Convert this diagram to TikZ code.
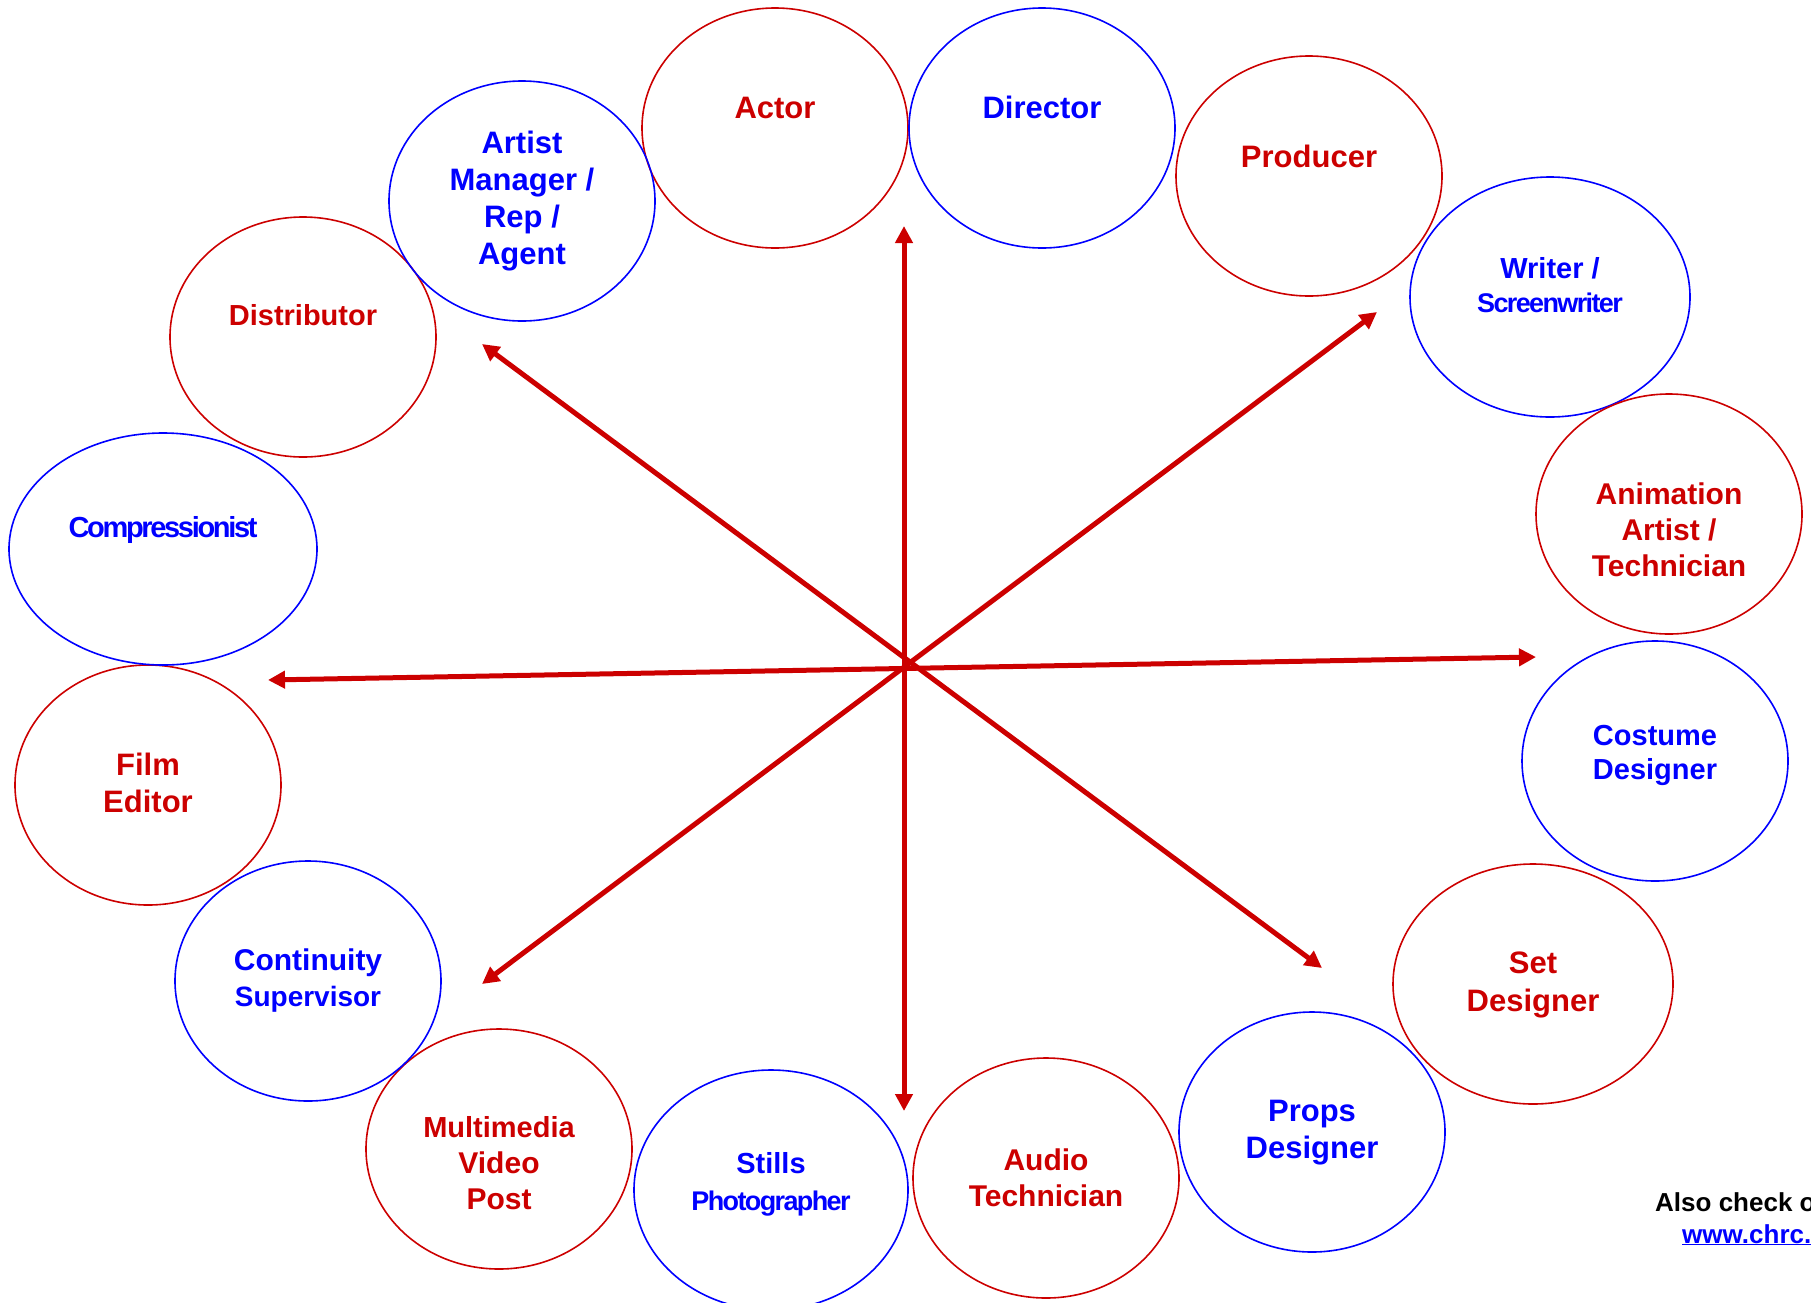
\documentclass[tikz,border=0pt]{standalone}
\usepackage{fontspec}
\setmainfont{Liberation Sans}
\newfontfamily\tightfont[LetterSpace=-6]{Liberation Sans}
\newfontfamily\tighterfont[LetterSpace=-8]{Liberation Sans}
\usetikzlibrary{shapes.geometric,arrows.meta}
\definecolor{rolered}{HTML}{CC0000}
\definecolor{roleblue}{HTML}{0000FF}

\tikzset{
  redrole/.style={ellipse, draw=rolered, line width=1.6pt, minimum width=266pt, minimum height=240pt, inner sep=0pt},
  bluerole/.style={ellipse, draw=roleblue, line width=1.6pt, minimum width=266pt, minimum height=240pt, inner sep=0pt},
  redlabel/.style={text=rolered, font=\bfseries\fontsize{31}{37}\selectfont, align=center, inner sep=0pt},
  bluelabel/.style={text=roleblue, font=\bfseries\fontsize{31}{37}\selectfont, align=center, inner sep=0pt},
  spoke/.style={draw=rolered, line width=5pt, {Triangle[length=17pt,width=17pt]}-{Triangle[length=17pt,width=17pt]}}
}

\begin{document}
\begin{tikzpicture}[x=1pt, y=-1pt]
                \useasboundingbox (0,0) rectangle (1811,1302);

                % Roles round the wheel
                \node[redrole]  (actor)     at (775,128)  {};
                \node[bluerole] (director)  at (1042,128) {};
                \node[redrole]  (producer)  at (1309,176) {};
                \node[bluerole, minimum width=280pt] (writer) at (1550,297) {};
                \node[redrole]  (animation) at (1669,514) {};
                \node[bluerole] (costume)   at (1655,761) {};
                \node[redrole, minimum width=280pt] (setdes) at (1533,984) {};
                \node[bluerole] (props)     at (1312,1132) {};
                \node[redrole]  (audio)     at (1046,1178) {};
                \node[bluerole, minimum width=274pt] (stills) at (771,1190) {};
                \node[redrole]  (multimedia) at (499,1149) {};
                \node[bluerole] (continuity) at (308,981) {};
                \node[redrole]  (film)      at (148,785)  {};
                \node[bluerole, minimum width=308pt, minimum height=232pt] (compress) at (163,549) {};
                \node[redrole]  (distrib)   at (303,337)  {};
                \node[bluerole] (agent)     at (522,201)  {};

                % Role names
                \node[redlabel]  (actorT)     at (775,108)  {Actor};
                \node[bluelabel] (directorT)  at (1042,107) {Director};
                \node[redlabel]  (producerT)  at (1309,156) {Producer};
                \node[bluelabel, font=\bfseries\fontsize{29}{34}\selectfont] (writerT) at (1550,285)
                    {Writer /\\{\tightfont\fontsize{27}{34}\selectfont Screenwriter}};
                \node[redlabel, font=\bfseries\fontsize{30}{36}\selectfont] (animationT) at (1669,530)
                    {Animation\\Artist /\\Technician};
                \node[bluelabel, font=\bfseries\fontsize{29}{34}\selectfont] (costumeT) at (1655,755)
                    {Costume\\Designer};
                \node[redlabel, font=\bfseries\fontsize{31}{38}\selectfont] (setdesT) at (1533,985)
                    {Set\\Designer};
                \node[bluelabel] (propsT)     at (1312,1133) {Props\\Designer};
                \node[redlabel, font=\bfseries\fontsize{30}{36}\selectfont] (audioT) at (1046,1178)
                    {Audio\\Technician};
                \node[bluelabel, font=\bfseries\fontsize{29}{37}\selectfont] (stillsT) at (771,1184)
                    {Stills\\{\tightfont\fontsize{27}{37}\selectfont Photographer}};
                \node[redlabel, font=\bfseries\fontsize{30}{36}\selectfont] (multimediaT) at (499,1163)
                    {{\fontsize{29}{36}\selectfont Multimedia}\\Video\\Post};
                \node[bluelabel, font=\bfseries\fontsize{30}{36}\selectfont] (continuityT) at (308,981)
                    {Continuity\\{\fontsize{28}{36}\selectfont Supervisor}};
                \node[redlabel]  (filmT)      at (148,783)  {Film\\Editor};
                \node[bluelabel, font=\bfseries\tighterfont\fontsize{29}{34}\selectfont] (compressT) at (163,530)
                    {Compressionist};
                \node[redlabel, font=\bfseries\fontsize{29}{34}\selectfont] (distribT) at (303,315)
                    {Distributor};
                \node[bluelabel] (agentT)     at (522,201)  {Artist\\Manager /\\Rep /\\Agent};

                % Spokes through the hub
                \coordinate (topTip)   at (904,226);
                \coordinate (downTip)  at (904,1111);
                \coordinate (leftTip)  at (268,680);
                \coordinate (rightTip) at (1536,657);
                \coordinate (ulTip)    at (482,344);
                \coordinate (drTip)    at (1322,968);
                \coordinate (urTip)    at (1377,312);
                \coordinate (dlTip)    at (482,984);
                \draw[spoke] (topTip) -- (downTip);
                \draw[spoke] (leftTip) -- (rightTip);
                \draw[spoke] (ulTip) -- (drTip);
                \draw[spoke] (urTip) -- (dlTip);

                % Note in the corner, cut by the page edge
                \node[anchor=base west, inner sep=0pt, font=\bfseries\fontsize{26}{30}\selectfont] (alsoT) at (1655,1211)
                    {Also check out};
                \node[anchor=base west, inner sep=0pt, text=roleblue, font=\bfseries\fontsize{26}{30}\selectfont] (webT) at (1682,1243)
                    {\underline{www.chrc.ca}};
\end{tikzpicture}
\end{document}
